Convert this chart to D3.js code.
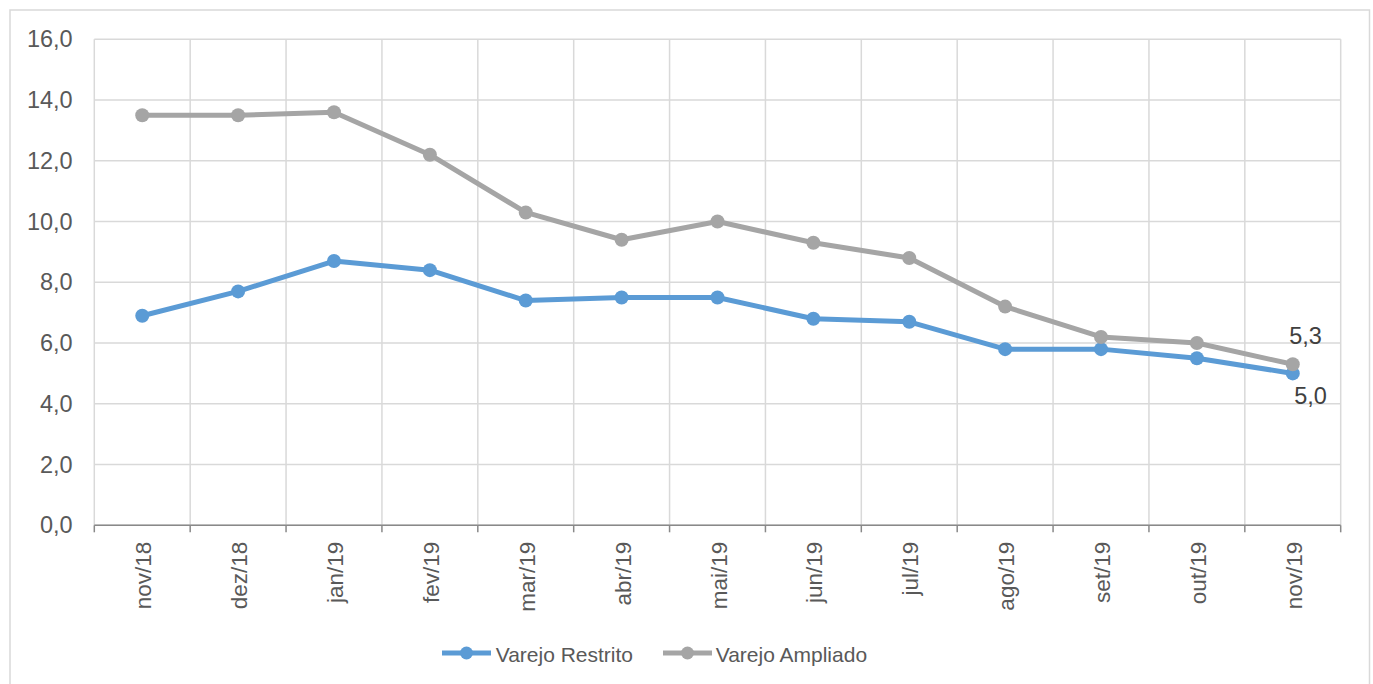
<!DOCTYPE html>
<html><head><meta charset="utf-8">
<script src="https://cdn.jsdelivr.net/npm/d3@7"></script>
<style>body{margin:0;background:#fff;}svg{display:block;font-family:"Liberation Sans",Arial,sans-serif;}</style>
</head><body><svg id="c" width="1373" height="684"></svg>
<script>
const categories = ["nov/18","dez/18","jan/19","fev/19","mar/19","abr/19","mai/19","jun/19","jul/19","ago/19","set/19","out/19","nov/19"];
const restrito = [6.9,7.7,8.7,8.4,7.4,7.5,7.5,6.8,6.7,5.8,5.8,5.5,5.0];
const ampliado = [13.5,13.5,13.6,12.2,10.3,9.4,10.0,9.3,8.8,7.2,6.2,6.0,5.3];
const yTicks = [0,2,4,6,8,10,12,14,16];
const seriesNames = ["Varejo Restrito","Varejo Ampliado"];
const colors = ["#5B9BD5","#A5A5A5"];

const svg = d3.select("#c");
const m = {l:94.3, r:1340.7, t:39.3, b:525.3};
const x = d3.scaleBand().domain(categories).range([m.l, m.r]);
const y = d3.scaleLinear().domain([0,16]).range([m.b, m.t]);
const fmt = v => d3.format(".1f")(v).replace(".", ",");

// outer border
svg.append("rect").attr("x",10).attr("y",10).attr("width",1359.5).attr("height",700)
  .attr("fill","none").attr("stroke","#D9D9D9").attr("stroke-width",1.5);

// horizontal grid
svg.append("g").selectAll("line").data(yTicks).join("line")
  .attr("x1",m.l).attr("x2",m.r).attr("y1",d=>y(d)).attr("y2",d=>y(d))
  .attr("stroke","#D9D9D9").attr("stroke-width",1.5);
// vertical grid at band boundaries
const bounds = categories.map(c=>x(c)).concat([m.r]);
svg.append("g").selectAll("line").data(bounds).join("line")
  .attr("x1",d=>d).attr("x2",d=>d).attr("y1",m.t).attr("y2",m.b)
  .attr("stroke","#D9D9D9").attr("stroke-width",1.5);

// y labels
svg.append("g").selectAll("text").data(yTicks).join("text")
  .attr("x",72.7).attr("y",d=>y(d)+8).attr("text-anchor","end")
  .attr("font-size",23.5).attr("fill","#595959").text(fmt);

// x axis line and ticks
svg.append("line").attr("x1",m.l).attr("x2",m.r).attr("y1",m.b).attr("y2",m.b)
  .attr("stroke","#898989").attr("stroke-width",1.5);
svg.append("g").selectAll("line").data(bounds).join("line")
  .attr("x1",d=>d).attr("x2",d=>d).attr("y1",m.b).attr("y2",m.b+7)
  .attr("stroke","#898989").attr("stroke-width",1.5);

// x labels rotated
svg.append("g").selectAll("text").data(categories).join("text")
  .attr("transform",d=>`translate(${x(d)+x.bandwidth()/2+9},${m.b+16.5}) rotate(-90)`)
  .attr("text-anchor","end").attr("font-size",22.5).attr("fill","#595959").text(d=>d);

// lines
const line = d3.line().x((d,i)=>x(categories[i])+x.bandwidth()/2).y(d=>y(d));
[ampliado, restrito].forEach((s,k)=>{
  const col = k===0 ? colors[1] : colors[0];
  svg.append("path").datum(s).attr("d",line).attr("fill","none")
    .attr("stroke",col).attr("stroke-width",5).attr("stroke-linejoin","round");
});
[restrito, ampliado].forEach((s,k)=>{
  svg.append("g").selectAll("circle").data(s).join("circle")
    .attr("cx",(d,i)=>x(categories[i])+x.bandwidth()/2).attr("cy",d=>y(d))
    .attr("r",7).attr("fill",colors[k]);
});

// data labels for last point
const li = categories.length-1;
const lx = x(categories[li])+x.bandwidth()/2;
svg.append("text").attr("x",lx-3.5).attr("y",y(ampliado[li])-20).attr("font-size",23.5)
  .attr("fill","#404040").text(fmt(ampliado[li]));
svg.append("text").attr("x",lx+1.5).attr("y",y(restrito[li])+31).attr("font-size",23.5)
  .attr("fill","#404040").text(fmt(restrito[li]));

// legend
const leg = [{x0:442,x1:491,tx:495.7},{x0:663,x1:712,tx:715.7}];
leg.forEach((L,k)=>{
  const g = svg.append("g");
  g.append("line").attr("x1",L.x0).attr("x2",L.x1).attr("y1",653).attr("y2",653)
    .attr("stroke",colors[k]).attr("stroke-width",5);
  g.append("circle").attr("cx",(L.x0+L.x1)/2).attr("cy",653).attr("r",6.5).attr("fill",colors[k]);
  g.append("text").attr("x",L.tx).attr("y",661.5).attr("font-size",21).attr("fill","#595959").text(seriesNames[k]);
});
</script></body></html>
